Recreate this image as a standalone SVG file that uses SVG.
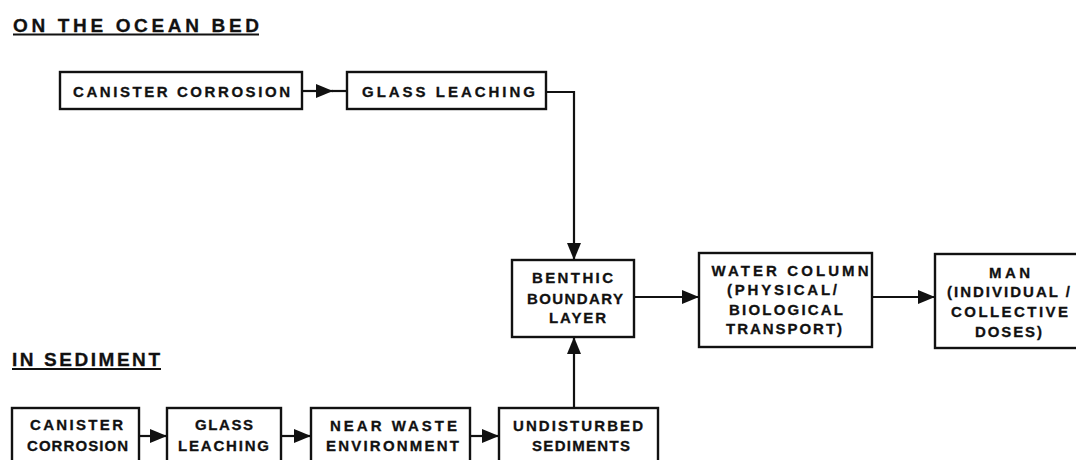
<svg xmlns="http://www.w3.org/2000/svg" width="1076" height="460" viewBox="0 0 1076 460">
<style>
.box{fill:#fff;stroke:#111;stroke-width:2.4}
.t{font-family:"Liberation Sans",Arial,sans-serif;font-weight:bold;font-size:15px;fill:#111;stroke:#111;stroke-width:0.3;text-anchor:middle}
.h{font-family:"Liberation Sans",Arial,sans-serif;font-weight:bold;font-size:19px;fill:#111;stroke:#111;stroke-width:0.3}
.c{fill:none;stroke:#111;stroke-width:2.2}
.u{stroke:#111;stroke-width:1.8}
</style>
<defs>
<marker id="ah" markerUnits="userSpaceOnUse" markerWidth="18" markerHeight="14" refX="17" refY="7" orient="auto">
<path d="M0,0 L17,7 L0,14 Z" fill="#111"/>
</marker>
</defs>
<rect width="1076" height="460" fill="#fff"/>
<g id="heading-ocean">
<text class="h" x="13" y="32" textLength="246" lengthAdjust="spacing">ON THE OCEAN BED</text>
<line class="u" x1="13" y1="34.5" x2="259" y2="34.5"/>
</g>
<g id="heading-sediment">
<text class="h" x="12" y="366" textLength="148" lengthAdjust="spacing">IN SEDIMENT</text>
<line class="u" x1="12" y1="369" x2="161" y2="369"/>
</g>
<g id="connectors">
<line class="c" x1="302" y1="91" x2="333" y2="91" marker-end="url(#ah)"/>
<line class="c" x1="332" y1="91" x2="347" y2="91"/>
<path class="c" d="M546,92 H574 V260" marker-end="url(#ah)"/>
<line class="c" x1="574" y1="408" x2="574" y2="337" marker-end="url(#ah)"/>
<line class="c" x1="634" y1="297" x2="699" y2="297" marker-end="url(#ah)"/>
<line class="c" x1="872" y1="297" x2="935" y2="297" marker-end="url(#ah)"/>
<line class="c" x1="139" y1="436" x2="167" y2="436" marker-end="url(#ah)"/>
<line class="c" x1="281" y1="436" x2="311" y2="436" marker-end="url(#ah)"/>
<line class="c" x1="470" y1="436" x2="499" y2="436" marker-end="url(#ah)"/>
</g>
<g id="canister-corrosion-bed">
<rect class="box" x="60" y="72" width="242" height="37"/>
<text class="t" x="181.5" y="97" textLength="217" lengthAdjust="spacing">CANISTER CORROSION</text>
</g>
<g id="glass-leaching-bed">
<rect class="box" x="347" y="72" width="199" height="37"/>
<text class="t" x="448.5" y="97" textLength="173" lengthAdjust="spacing">GLASS LEACHING</text>
</g>
<g id="benthic-boundary-layer">
<rect class="box" x="512" y="260" width="122" height="77"/>
<text class="t" x="572.5" y="283" textLength="81" lengthAdjust="spacing">BENTHIC</text>
<text class="t" x="575" y="304" textLength="96" lengthAdjust="spacing">BOUNDARY</text>
<text class="t" x="577.5" y="323" textLength="57" lengthAdjust="spacing">LAYER</text>
</g>
<g id="water-column">
<rect class="box" x="699" y="253" width="173" height="94"/>
<text class="t" x="790" y="276" textLength="157" lengthAdjust="spacing">WATER COLUMN</text>
<text class="t" x="782" y="295" textLength="110" lengthAdjust="spacing">(PHYSICAL/</text>
<text class="t" x="786" y="315" textLength="114" lengthAdjust="spacing">BIOLOGICAL</text>
<text class="t" x="784" y="334" textLength="116" lengthAdjust="spacing">TRANSPORT)</text>
</g>
<g id="man">
<rect class="box" x="935" y="254" width="145" height="94"/>
<text class="t" x="1009.5" y="278" textLength="41" lengthAdjust="spacing">MAN</text>
<text class="t" x="1008.5" y="297" textLength="123" lengthAdjust="spacing">(INDIVIDUAL /</text>
<text class="t" x="1009.5" y="317" textLength="117" lengthAdjust="spacing">COLLECTIVE</text>
<text class="t" x="1008.5" y="337" textLength="67" lengthAdjust="spacing">DOSES)</text>
</g>
<g id="canister-corrosion-sed">
<rect class="box" x="12" y="408" width="127" height="62"/>
<text class="t" x="76.5" y="430" textLength="93" lengthAdjust="spacing">CANISTER</text>
<text class="t" x="77.5" y="451" textLength="101" lengthAdjust="spacing">CORROSION</text>
</g>
<g id="glass-leaching-sed">
<rect class="box" x="167" y="408" width="114" height="62"/>
<text class="t" x="224" y="430" textLength="58" lengthAdjust="spacing">GLASS</text>
<text class="t" x="223.5" y="451" textLength="91" lengthAdjust="spacing">LEACHING</text>
</g>
<g id="near-waste-environment">
<rect class="box" x="311" y="408" width="159" height="62"/>
<text class="t" x="393.5" y="431" textLength="127" lengthAdjust="spacing">NEAR WASTE</text>
<text class="t" x="392.5" y="451" textLength="133" lengthAdjust="spacing">ENVIRONMENT</text>
</g>
<g id="undisturbed-sediments">
<rect class="box" x="499" y="408" width="159" height="62"/>
<text class="t" x="578" y="431" textLength="130" lengthAdjust="spacing">UNDISTURBED</text>
<text class="t" x="581" y="451" textLength="98" lengthAdjust="spacing">SEDIMENTS</text>
</g>
</svg>
